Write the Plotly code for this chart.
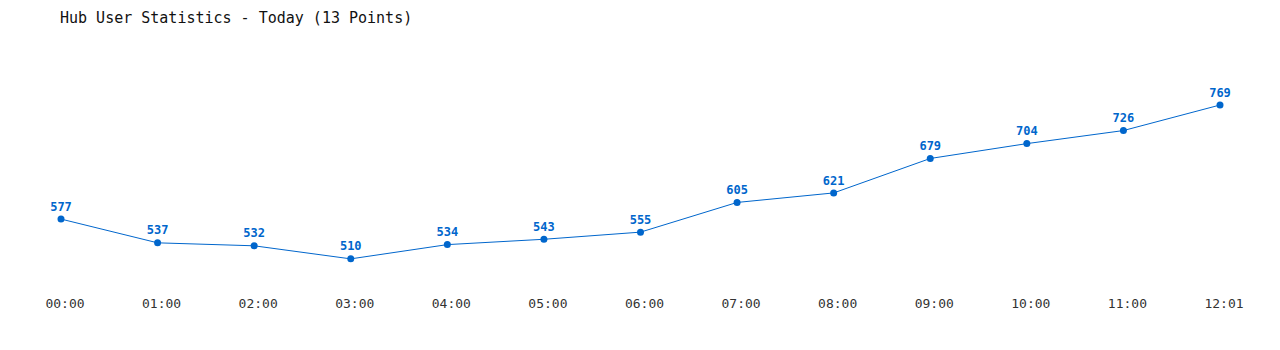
import plotly.graph_objects as go

categories = ["00:00", "01:00", "02:00", "03:00", "04:00", "05:00", "06:00",
              "07:00", "08:00", "09:00", "10:00", "11:00", "12:01"]
users = [577, 537, 532, 510, 534, 543, 555, 605, 621, 679, 704, 726, 769]

color = "#0066cc"
mono = "DejaVu Sans Mono, Liberation Mono, monospace"

fig = go.Figure(go.Scatter(
    x=list(range(len(categories))), y=users,
    mode="lines+markers+text",
    line=dict(color=color, width=1),
    marker=dict(color=color, size=7),
    text=[str(v) for v in users],
    textposition="top center",
    textfont=dict(family=mono, size=12, color=color, weight="bold"),
    cliponaxis=False,
    hoverinfo="skip",
))

fig.update_layout(
    width=1280, height=350,
    margin=dict(l=61, r=60, t=50, b=60),
    paper_bgcolor="white", plot_bgcolor="white",
    showlegend=False,
    title=dict(text="Hub User Statistics - Today (13 Points)",
               x=60/1280, xanchor="left", y=1-18/350, yanchor="middle",
               font=dict(family=mono, size=15, color="#111")),
    xaxis=dict(range=[0, 12], tickmode="array",
               tickvals=list(range(len(categories))), ticktext=categories,
               showgrid=False, zeroline=False, showline=False, ticks="",
               ticklabelshift=4, ticklabelstandoff=4,
               tickfont=dict(family=mono, size=13, color="#333")),
    yaxis=dict(range=[457.6, 861.6], visible=False, showgrid=False),
)

fig.write_html("out.html")
